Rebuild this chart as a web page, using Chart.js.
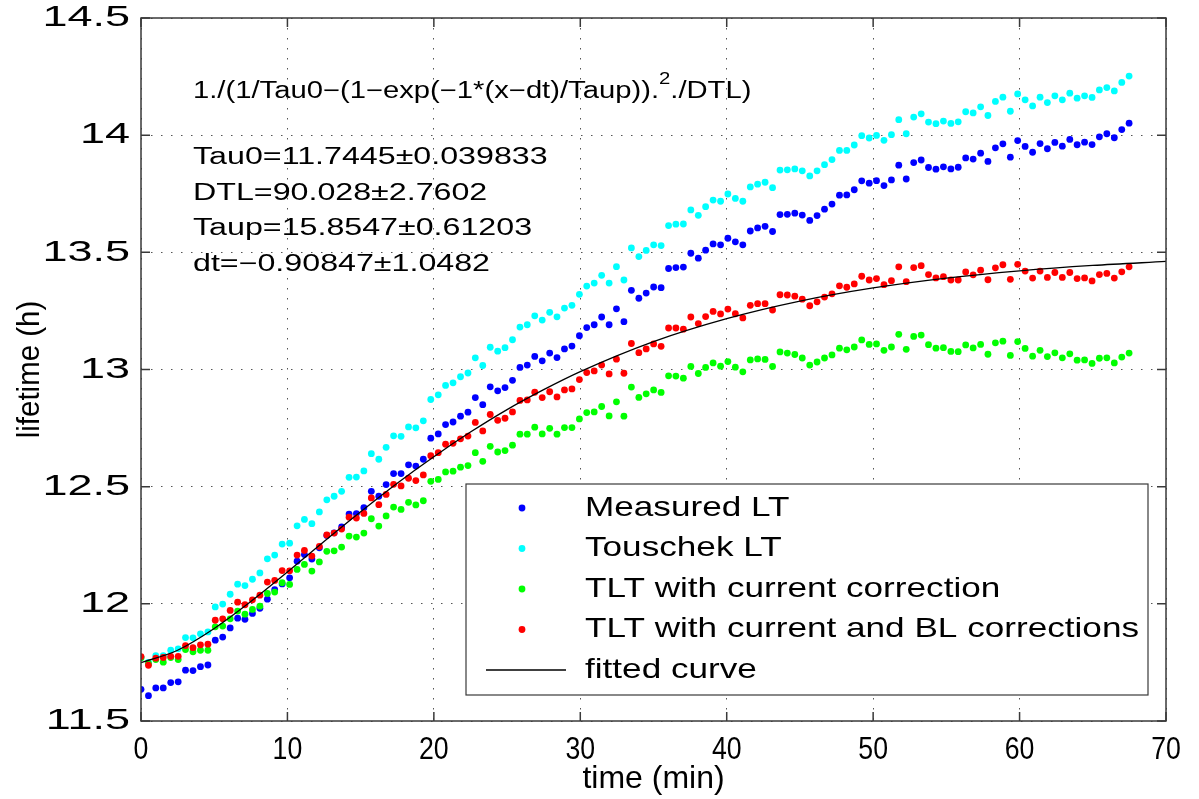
<!DOCTYPE html>
<html>
<head>
<meta charset="utf-8">
<script src="https://cdn.jsdelivr.net/npm/chart.js@4.4.1/dist/chart.umd.min.js"></script>
<style>
  html, body { margin: 0; padding: 0; background: #fff; }
</style>
</head>
<body>
<canvas id="lifetimeChart" width="1199" height="799"></canvas>
<script>
(() => {
  'use strict'
  // sample times (min), one sample about every 30 s
  const times = [0, 0.51, 1.01, 1.52, 2.03, 2.54, 3.04, 3.55, 4.06, 4.57, 5.07, 5.58, 6.09, 6.60, 7.10, 7.61, 8.12, 8.63, 9.13, 9.64,
    10.15, 10.66, 11.16, 11.67, 12.18, 12.69, 13.19, 13.70, 14.21, 14.71, 15.22, 15.73, 16.24, 16.74, 17.25, 17.76, 18.27, 18.77, 19.28, 19.79,
    20.30, 20.80, 21.31, 21.82, 22.33, 22.83, 23.34, 23.85, 24.36, 24.86, 25.37, 25.88, 26.38, 26.89, 27.40, 27.91, 28.41, 28.92, 29.43, 29.94,
    30.44, 30.95, 31.46, 31.97, 32.47, 32.98, 33.49, 34.00, 34.50, 35.01, 35.52, 36.03, 36.53, 37.04, 37.55, 38.06, 38.56, 39.07, 39.58, 40.08,
    40.59, 41.10, 41.61, 42.11, 42.62, 43.13, 43.64, 44.14, 44.65, 45.16, 45.67, 46.17, 46.68, 47.19, 47.70, 48.20, 48.71, 49.22, 49.73, 50.23,
    50.74, 51.25, 51.75, 52.26, 52.77, 53.28, 53.78, 54.29, 54.80, 55.31, 55.81, 56.32, 56.83, 57.34, 57.84, 58.35, 58.86, 59.37, 59.87, 60.38,
    60.89, 61.40, 61.90, 62.41, 62.92, 63.43, 63.93, 64.44, 64.95, 65.45, 65.96, 66.47, 66.98, 67.48];

  const measuredLT = [11.635, 11.608, 11.641, 11.641, 11.664, 11.667, 11.717, 11.715, 11.732, 11.739, 11.845, 11.858, 11.897, 11.939, 11.934, 11.959, 11.981, 12.02, 12.060, 12.085, 12.111, 12.182, 12.210,
    12.191, 12.239, 12.292, 12.303, 12.328, 12.383, 12.385, 12.410, 12.480, 12.459, 12.509, 12.556, 12.556, 12.593, 12.588, 12.617, 12.707, 12.725, 12.765, 12.776, 12.801, 12.818,
    12.880, 12.850, 12.926, 12.909, 12.923, 12.954, 13.009, 13.019, 13.056, 13.037, 13.070, 13.051, 13.088, 13.100, 13.144, 13.179, 13.191, 13.224, 13.191, 13.259, 13.204, 13.338,
    13.304, 13.326, 13.352, 13.349, 13.431, 13.435, 13.437, 13.496, 13.475, 13.509, 13.536, 13.532, 13.560, 13.545, 13.532, 13.591, 13.604, 13.611, 13.589, 13.661, 13.662, 13.667,
    13.659, 13.636, 13.657, 13.684, 13.706, 13.744, 13.745, 13.767, 13.805, 13.795, 13.806, 13.785, 13.809, 13.872, 13.813, 13.883, 13.894, 13.862, 13.855, 13.865, 13.856, 13.863, 13.903,
    13.898, 13.923, 13.888, 13.946, 13.963, 13.906, 13.977, 13.952, 13.927, 13.964, 13.942, 13.969, 13.953, 13.982, 13.959, 13.970, 13.960, 13.993, 14.006, 13.989, 14.024, 14.051];

  const touschekLT = [11.77, 11.75, 11.779, 11.779, 11.802, 11.808, 11.856, 11.855, 11.872, 11.880, 11.987, 11.999, 12.041, 12.084, 12.078, 12.105, 12.132, 12.192, 12.208, 12.255, 12.259, 12.333, 12.360,
    12.342, 12.392, 12.444, 12.459, 12.480, 12.540, 12.541, 12.567, 12.641, 12.617, 12.668, 12.717, 12.715, 12.755, 12.751, 12.781, 12.872, 12.892, 12.932, 12.943, 12.969, 12.985,
    13.050, 13.017, 13.095, 13.078, 13.093, 13.127, 13.181, 13.191, 13.229, 13.211, 13.244, 13.225, 13.262, 13.274, 13.321, 13.356, 13.369, 13.402, 13.369, 13.439, 13.382, 13.519,
    13.482, 13.508, 13.532, 13.529, 13.614, 13.620, 13.621, 13.681, 13.658, 13.695, 13.723, 13.718, 13.749, 13.730, 13.718, 13.779, 13.791, 13.799, 13.776, 13.851, 13.852, 13.856,
    13.848, 13.826, 13.848, 13.874, 13.896, 13.935, 13.935, 13.958, 13.998, 13.988, 13.999, 13.978, 14.002, 14.066, 14.006, 14.077, 14.091, 14.056, 14.049, 14.060, 14.050, 14.057, 14.100,
    14.095, 14.121, 14.084, 14.144, 14.162, 14.102, 14.176, 14.151, 14.125, 14.162, 14.139, 14.168, 14.151, 14.179, 14.158, 14.168, 14.161, 14.193, 14.203, 14.189, 14.225, 14.252];

  const tltCurrent = [11.77, 11.745, 11.762, 11.751, 11.771, 11.762, 11.805, 11.795, 11.802, 11.802, 11.902, 11.905, 11.936, 11.969, 11.956, 11.976, 11.990, 12.044, 12.050, 12.090, 12.083, 12.147, 12.168,
    12.140, 12.179, 12.224, 12.226, 12.242, 12.289, 12.285, 12.302, 12.363, 12.332, 12.375, 12.413, 12.403, 12.433, 12.422, 12.440, 12.523, 12.531, 12.563, 12.566, 12.583, 12.590,
    12.645, 12.608, 12.672, 12.648, 12.654, 12.677, 12.724, 12.724, 12.754, 12.725, 12.749, 12.724, 12.752, 12.752, 12.789, 12.816, 12.819, 12.842, 12.802, 12.862, 12.801, 12.925,
    12.881, 12.896, 12.913, 12.902, 12.973, 12.972, 12.963, 13.013, 12.983, 13.009, 13.028, 13.014, 13.034, 13.010, 12.990, 13.041, 13.045, 13.043, 13.013, 13.075, 13.070, 13.064,
    13.049, 13.019, 13.032, 13.049, 13.062, 13.091, 13.084, 13.096, 13.126, 13.107, 13.109, 13.082, 13.096, 13.150, 13.086, 13.141, 13.147, 13.106, 13.091, 13.093, 13.077, 13.076, 13.105,
    13.092, 13.107, 13.065, 13.114, 13.121, 13.060, 13.119, 13.090, 13.057, 13.082, 13.055, 13.071, 13.050, 13.067, 13.040, 13.041, 13.026, 13.048, 13.050, 13.028, 13.053, 13.070];

  const tltCurrentBL = [11.775, 11.738, 11.768, 11.771, 11.776, 11.776, 11.822, 11.813, 11.825, 11.828, 11.930, 11.936, 11.972, 12.007, 11.996, 12.017, 12.037, 12.093, 12.100, 12.142, 12.141, 12.208, 12.228,
    12.204, 12.245, 12.294, 12.302, 12.319, 12.370, 12.366, 12.386, 12.452, 12.423, 12.467, 12.510, 12.503, 12.536, 12.526, 12.550, 12.632, 12.645, 12.681, 12.685, 12.704, 12.716,
    12.774, 12.738, 12.808, 12.783, 12.792, 12.819, 12.868, 12.870, 12.903, 12.880, 12.905, 12.883, 12.913, 12.917, 12.957, 12.987, 12.994, 13.019, 12.981, 13.044, 12.984, 13.111,
    13.072, 13.088, 13.109, 13.099, 13.177, 13.177, 13.172, 13.224, 13.196, 13.226, 13.248, 13.237, 13.258, 13.238, 13.220, 13.274, 13.281, 13.281, 13.254, 13.319, 13.318, 13.313,
    13.300, 13.272, 13.289, 13.309, 13.323, 13.357, 13.351, 13.365, 13.398, 13.382, 13.388, 13.362, 13.379, 13.438, 13.375, 13.435, 13.443, 13.405, 13.391, 13.396, 13.382, 13.382, 13.416,
    13.404, 13.424, 13.383, 13.434, 13.447, 13.385, 13.449, 13.420, 13.390, 13.420, 13.393, 13.414, 13.393, 13.414, 13.388, 13.391, 13.378, 13.405, 13.410, 13.390, 13.417, 13.438];

  // fitted curve
  const fitTimes = [0, 2.5, 5, 7.5, 10, 12.5, 15, 17.5, 20, 22.5, 25, 27.5, 30, 35, 40, 45, 50, 55, 60, 65, 70];
  const fitValues = [11.749, 11.802, 11.895, 12.010, 12.136, 12.266, 12.393, 12.515, 12.628, 12.733, 12.829, 12.914, 12.991, 13.119, 13.217, 13.292, 13.348, 13.390, 13.421, 13.444, 13.461];

  const xTicks = [0, 10, 20, 30, 40, 50, 60, 70];
  const yTicks = [11.5, 12, 12.5, 13, 13.5, 14, 14.5];

  const fitParams = ['Tau0=11.7445\u00b10.039833', 'DTL=90.028\u00b12.7602', 'Taup=15.8547\u00b10.61203', 'dt=\u22120.90847\u00b11.0482'];

  const FONT = "'Liberation Sans', Arial, Helvetica, sans-serif";

  const toPoints = (xs, ys) => xs.map((x, i) => ({ x: x, y: ys[i] }));

  // texte étiré horizontalement (la figure d'origine est élargie)
  const drawText = (ctx, str, x, y, size, sx, align) => {
    ctx.save();
    ctx.font = size + 'px ' + FONT;
    ctx.translate(x, y);
    ctx.scale(sx, 1);
    ctx.textAlign = align || 'left';
    ctx.textBaseline = 'middle';
    ctx.fillStyle = '#000';
    ctx.fillText(str, 0, 0);
    const w = ctx.measureText(str).width * sx;
    ctx.restore();
    return w;
  };

  const framePlugin = {
    id: 'matlabFrame',
    afterDatasetsDraw(chart) {
      const { ctx, chartArea: a, scales } = chart;
      const xs = scales.x, ys = scales.y;
      ctx.save();
      // box + inward ticks
      ctx.strokeStyle = '#3a3a3a';
      ctx.lineWidth = 1.5;
      ctx.strokeRect(a.left, a.top, a.right - a.left, a.bottom - a.top);
      ctx.beginPath();
      xTicks.forEach(v => {
        const px = xs.getPixelForValue(v);
        ctx.moveTo(px, a.bottom); ctx.lineTo(px, a.bottom - 9);
        ctx.moveTo(px, a.top); ctx.lineTo(px, a.top + 9);
      });
      yTicks.forEach(v => {
        const py = ys.getPixelForValue(v);
        ctx.moveTo(a.left, py); ctx.lineTo(a.left + 9, py);
        ctx.moveTo(a.right, py); ctx.lineTo(a.right - 9, py);
      });
      ctx.stroke();
      ctx.restore();

      // tick labels
      xTicks.forEach(v => drawText(ctx, String(v), xs.getPixelForValue(v), a.bottom + 29, 31, 0.86, 'center'));
      yTicks.forEach(v => drawText(ctx, String(v), a.left - 11, ys.getPixelForValue(v), 30, 1.5, 'right'));

      // axis titles
      drawText(ctx, 'time (min)', (a.left + a.right) / 2, a.bottom + 58, 32, 1.0, 'center');
      ctx.save();
      ctx.translate(30, (a.top + a.bottom) / 2);
      ctx.rotate(-Math.PI / 2);
      drawText(ctx, 'lifetime (h)', 0, 0, 31, 0.95, 'center');
      ctx.restore();

      // fit formula and parameters
      let x = 193;
      x += drawText(ctx, '1./(1/Tau0\u2212(1\u2212exp(\u22121*(x\u2212dt)/Taup)).', x, 92, 23, 1.27);
      x += drawText(ctx, '2', x, 80, 16, 1.27);
      drawText(ctx, './DTL)', x, 92, 23, 1.27);
      fitParams.forEach((s, i) => drawText(ctx, s, 193, 158 + i * 35.5, 23, 1.4));

      // legend box
      const lx = 466, ly = 484, lw = 682, lh = 211;
      ctx.save();
      ctx.fillStyle = '#fff';
      ctx.fillRect(lx, ly, lw, lh);
      ctx.strokeStyle = '#3a3a3a';
      ctx.lineWidth = 1.2;
      ctx.strokeRect(lx, ly, lw, lh);
      ctx.restore();
      const legendOrder = ['Measured LT', 'Touschek LT', 'TLT with current correction', 'TLT with current and BL corrections', 'fitted curve'];
      legendOrder.forEach((label, i) => {
        const ds = chart.data.datasets.find(d => d.label === label);
        const cy = 508 + i * 40.5;
        ctx.save();
        if (ds.showLine) {
          ctx.strokeStyle = ds.borderColor;
          ctx.lineWidth = ds.borderWidth;
          ctx.beginPath(); ctx.moveTo(486, cy); ctx.lineTo(566, cy); ctx.stroke();
        } else {
          ctx.fillStyle = ds.backgroundColor;
          ctx.beginPath(); ctx.arc(522, cy, ds.pointRadius, 0, Math.PI * 2); ctx.fill();
        }
        ctx.restore();
        drawText(ctx, label, 585, cy, 28, 1.255);
      });
    }
  };

  const dotSet = (label, data, color, order) => ({
    label: label,
    data: toPoints(times, data),
    backgroundColor: color,
    borderColor: color,
    borderWidth: 0,
    pointRadius: 3.4,
    pointHoverRadius: 3.4,
    showLine: false,
    order: order
  });

  new Chart(document.getElementById('lifetimeChart'), {
    type: 'scatter',
    data: {
      datasets: [
        dotSet('Measured LT', measuredLT, '#0000ff', 4),
        dotSet('Touschek LT', touschekLT, '#00ffff', 3),
        dotSet('TLT with current correction', tltCurrent, '#00ff00', 2),
        dotSet('TLT with current and BL corrections', tltCurrentBL, '#ff0000', 1),
        {
          label: 'fitted curve',
          data: toPoints(fitTimes, fitValues),
          showLine: true,
          borderColor: '#000',
          backgroundColor: '#000',
          borderWidth: 1.3,
          pointRadius: 0,
          cubicInterpolationMode: 'monotone',
          order: 0
        }
      ]
    },
    options: {
      responsive: false,
      animation: false,
      devicePixelRatio: 1,
      layout: { padding: { left: 0, right: 33, top: 18, bottom: 0 } },
      plugins: { legend: { display: false }, tooltip: { enabled: false } },
      scales: {
        x: {
          type: 'linear', min: 0, max: 70,
          afterBuildTicks: s => { s.ticks = xTicks.map(v => ({ value: v })); },
          afterFit: s => { s.height = 78; },
          ticks: { display: false },
          grid: { color: '#555', lineWidth: 1, drawTicks: false },
          border: { display: false, dash: [1.5, 8.5] }
        },
        y: {
          type: 'linear', min: 11.5, max: 14.5,
          afterBuildTicks: s => { s.ticks = yTicks.map(v => ({ value: v })); },
          afterFit: s => { s.width = 141; },
          ticks: { display: false },
          grid: { color: '#555', lineWidth: 1, drawTicks: false },
          border: { display: false, dash: [1.5, 8.5] }
        }
      }
    },
    plugins: [framePlugin]
  });
})();
</script>
</body>
</html>
